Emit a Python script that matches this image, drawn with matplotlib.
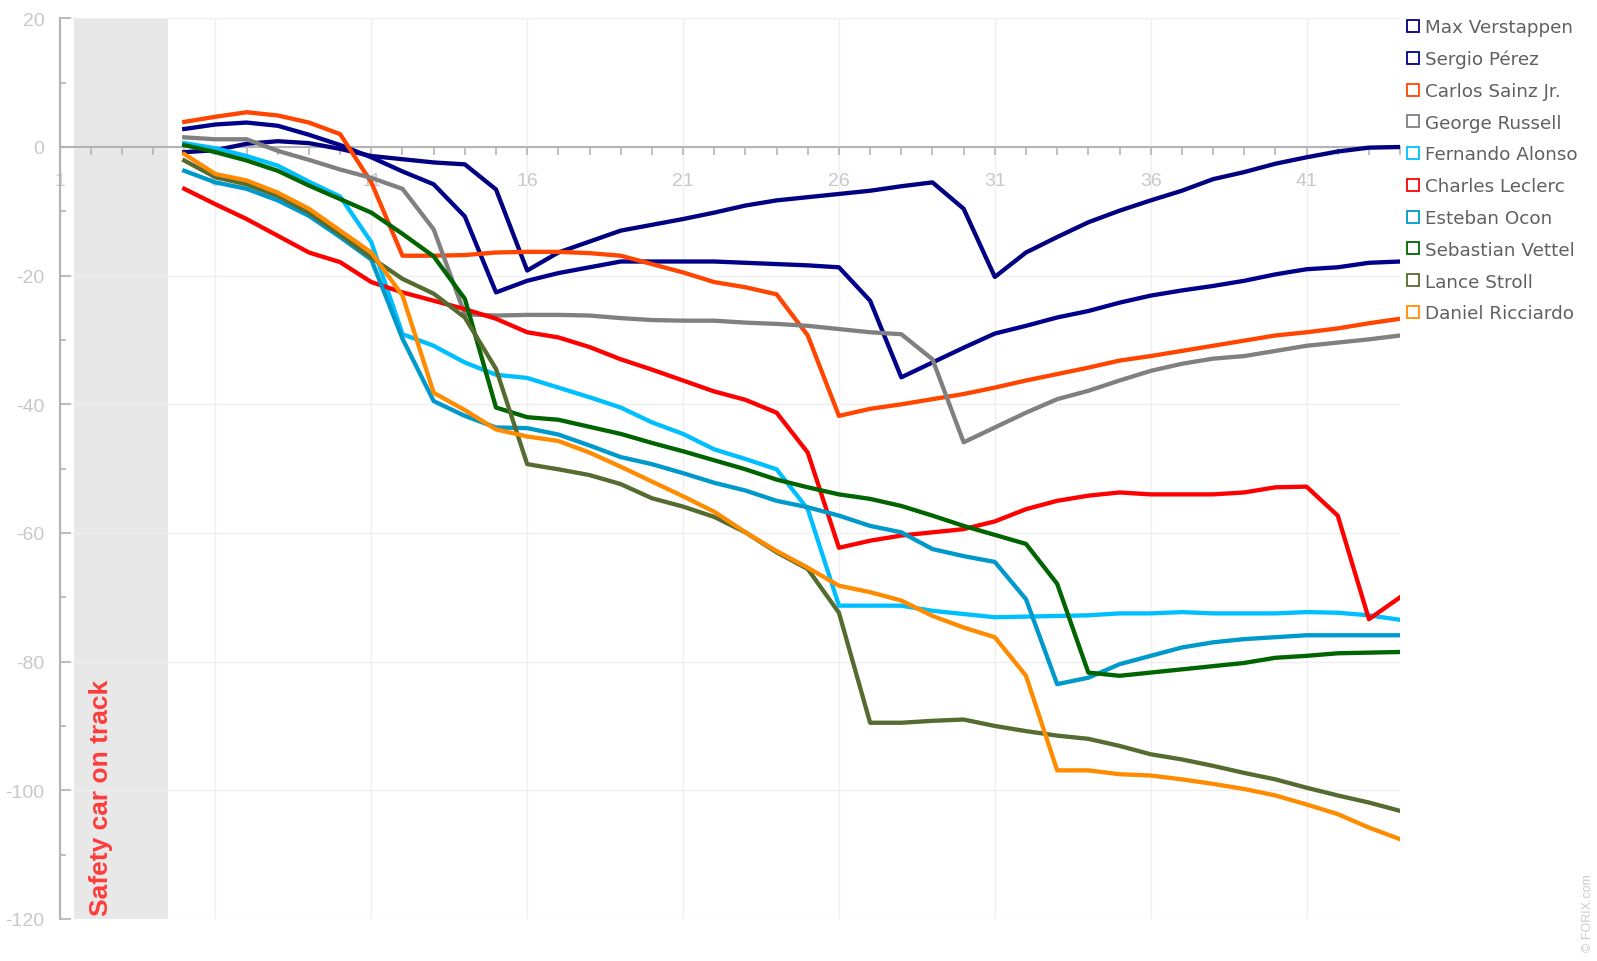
import matplotlib
matplotlib.use('Agg')
import matplotlib.pyplot as plt
from matplotlib.lines import Line2D

# gap to leader (s), laps 5..44
laps = list(range(5, 45))

drivers = ['Max Verstappen', 'Sergio Pérez', 'Carlos Sainz Jr.', 'George Russell',
           'Fernando Alonso', 'Charles Leclerc', 'Esteban Ocon', 'Sebastian Vettel',
           'Lance Stroll', 'Daniel Ricciardo']
colors = ['#000080', '#00008b', '#ff4500', '#808080', '#00bfff',
          '#ff0000', '#0099cc', '#006400', '#556b2f', '#ff8c00']

verstappen = [-0.8, -0.5, 0.5, 0.9, 0.6, -0.3, -1.4, -1.9, -2.4, -2.7,
              -6.6, -19.2, -16.4, -14.7, -13.0, -12.1, -11.2, -10.2, -9.1, -8.3,
              -7.8, -7.3, -6.8, -6.1, -5.5, -9.6, -20.2, -16.4, -14.0, -11.7,
              -9.9, -8.3, -6.8, -5.0, -3.9, -2.6, -1.6, -0.7, -0.1, 0.0]
perez = [2.8, 3.5, 3.8, 3.3, 1.9, 0.3, -1.6, -3.8, -5.8, -10.8,
         -22.6, -20.8, -19.6, -18.7, -17.8, -17.8, -17.8, -17.8, -18.0, -18.2,
         -18.4, -18.7, -23.9, -35.8, -33.5, -31.2, -29.0, -27.8, -26.5, -25.5,
         -24.2, -23.1, -22.3, -21.6, -20.8, -19.8, -19.0, -18.7, -18.0, -17.8]
sainz = [3.9, 4.7, 5.4, 4.9, 3.8, 2.0, -5.5, -16.9, -16.9, -16.8,
         -16.4, -16.3, -16.3, -16.5, -16.9, -18.2, -19.5, -21.0, -21.8, -22.9,
         -29.3, -41.8, -40.7, -40.0, -39.2, -38.4, -37.4, -36.3, -35.3, -34.3,
         -33.2, -32.5, -31.7, -30.9, -30.1, -29.3, -28.8, -28.2, -27.4, -26.7]
russell = [1.5, 1.2, 1.2, -0.6, -2.0, -3.5, -4.8, -6.5, -12.8, -26.0,
           -26.2, -26.1, -26.1, -26.2, -26.6, -26.9, -27.0, -27.0, -27.3, -27.5,
           -27.8, -28.3, -28.8, -29.1, -33.0, -45.9, -43.6, -41.3, -39.2, -37.9,
           -36.3, -34.8, -33.7, -32.9, -32.5, -31.7, -30.9, -30.4, -29.9, -29.3]
alonso = [0.6, -0.2, -1.4, -2.9, -5.4, -7.7, -14.8, -29.1, -30.9, -33.5,
          -35.4, -35.9, -37.4, -38.9, -40.5, -42.8, -44.6, -47.0, -48.5, -50.1,
          -56.3, -71.3, -71.3, -71.3, -72.1, -72.6, -73.1, -73.0, -72.9, -72.8,
          -72.5, -72.5, -72.3, -72.5, -72.5, -72.5, -72.3, -72.4, -72.8, -73.5]
leclerc = [-6.5, -8.9, -11.2, -13.8, -16.4, -17.9, -21.0, -22.6, -23.9, -25.2,
           -26.7, -28.8, -29.6, -31.1, -33.0, -34.6, -36.3, -38.0, -39.3, -41.3,
           -47.5, -62.3, -61.2, -60.4, -59.9, -59.4, -58.2, -56.3, -55.0, -54.2,
           -53.7, -54.0, -54.0, -54.0, -53.7, -52.9, -52.8, -57.3, -73.4, -70.0]
ocon = [-3.7, -5.5, -6.5, -8.3, -10.7, -14.0, -17.5, -29.8, -39.5, -41.8,
        -43.6, -43.7, -44.7, -46.4, -48.2, -49.3, -50.7, -52.2, -53.4, -55.0,
        -56.0, -57.3, -58.9, -59.9, -62.5, -63.6, -64.5, -70.3, -83.5, -82.5,
        -80.4, -79.1, -77.8, -77.0, -76.5, -76.2, -75.9, -75.9, -75.9, -75.9]
vettel = [0.3, -0.8, -2.1, -3.7, -6.0, -8.1, -10.2, -13.5, -17.0, -23.6,
          -40.5, -42.0, -42.4, -43.5, -44.6, -46.0, -47.3, -48.7, -50.1, -51.7,
          -52.9, -54.0, -54.7, -55.8, -57.3, -58.9, -60.3, -61.7, -67.9, -81.7,
          -82.2, -81.7, -81.2, -80.7, -80.2, -79.4, -79.1, -78.7, -78.6, -78.5]
stroll = [-2.1, -4.7, -5.8, -7.6, -10.2, -13.6, -17.2, -20.5, -22.8, -26.5,
          -34.5, -49.3, -50.1, -51.0, -52.4, -54.6, -55.9, -57.5, -59.9, -63.0,
          -65.6, -72.4, -89.5, -89.5, -89.2, -89.0, -90.0, -90.8, -91.5, -92.0,
          -93.1, -94.4, -95.2, -96.2, -97.3, -98.3, -99.6, -100.8, -101.9, -103.2]
ricciardo = [-1.1, -4.2, -5.2, -7.1, -9.6, -13.0, -16.4, -23.1, -38.2, -40.9,
             -43.9, -45.0, -45.7, -47.5, -49.7, -52.0, -54.3, -56.7, -59.9, -62.8,
             -65.4, -68.2, -69.2, -70.5, -72.9, -74.7, -76.2, -82.2, -96.9, -96.9,
             -97.5, -97.7, -98.3, -99.0, -99.8, -100.8, -102.2, -103.7, -105.8, -107.6]

series = [verstappen, perez, sainz, russell, alonso, leclerc, ocon, vettel, stroll, ricciardo]

plt.rcParams['font.family'] = ['Liberation Sans', 'DejaVu Sans']
plt.rcParams['axes.unicode_minus'] = False

fig = plt.figure(figsize=(15.97, 9.62), dpi=100)
ax = fig.add_axes([0.0373, 0.0437, 0.8394, 0.9362])
ax.set_xlim(1, 44)
ax.set_ylim(-120, 20)

# safety car period
ax.axvspan(1.47, 4.48, color='#e8e8e8', lw=0, zorder=0)
ax.text(2.33, -119.4, 'Safety car on track', rotation=90, ha='center', va='bottom',
        color='#ff3b3b', fontsize=19, fontweight='bold')

for name, vals, c in zip(drivers, series, colors):
    ax.plot(laps, vals, color=c, lw=3.1, label=name, zorder=3)

# axes styling
for s in ['top', 'right']:
    ax.spines[s].set_visible(False)
ax.spines['bottom'].set_position(('data', 0))
for s in ['bottom', 'left']:
    ax.spines[s].set_color('#b4b4b4')
    ax.spines[s].set_linewidth(1.5)

ax.set_xticks(range(1, 45, 5))
ax.set_xticks(range(1, 45), minor=True)
ax.tick_params(axis='x', which='both', direction='out', length=6, width=1.2,
               color='#b4b4b4', labelcolor='#c8c8c8', labelsize=14, pad=12)
ax.set_yticks(range(-120, 21, 20))
ax.set_yticks(range(-110, 20, 20), minor=True)
ax.tick_params(axis='y', which='major', direction='in', length=8, width=1.2,
               color='#b4b4b4', labelcolor='#c8c8c8', labelsize=14, pad=11)
ax.tick_params(axis='y', which='minor', direction='in', length=4, width=1.2, color='#b4b4b4')
ax.grid(True, which='major', color='#efefef', lw=1)
ax.set_axisbelow(True)

# legend with open squares
handles = [Line2D([], [], marker='s', ls='none', ms=8.5, mfc='white', mec=c, mew=1.3)
           for c in colors]
fig.legend(handles, drivers, loc='upper left', bbox_to_anchor=(1406 / 1597, 1 - 19 / 962),
           frameon=False, prop={'family': 'DejaVu Sans', 'size': 13.2}, labelcolor='#606060',
           handlelength=0.75, handletextpad=0.3, labelspacing=0.75, borderaxespad=0, borderpad=0)

fig.text(0.9945, 0.0105, '© FORIX.com', rotation=90, color='#cccccc', fontsize=9,
         ha='center', va='bottom')

fig.savefig('out.png', dpi=100)
